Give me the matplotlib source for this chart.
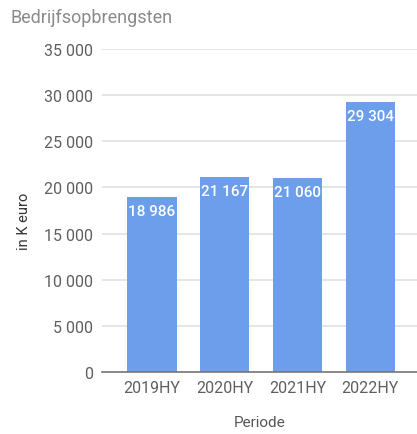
import matplotlib.pyplot as plt
from matplotlib.ticker import FuncFormatter

periods = ['2019HY', '2020HY', '2021HY', '2022HY']
revenue = [18986, 21167, 21060, 29304]
y_ticks = [0, 5000, 10000, 15000, 20000, 25000, 30000, 35000]

plt.rcParams['font.family'] = ['Roboto', 'DejaVu Sans']


def fmt(v, pos=None):
    return f'{int(v):,}'.replace(',', ' ')


fig = plt.figure(figsize=(4.17, 4.35), dpi=100)
ax = fig.add_axes([0.245, 0.1425, 0.755, 0.7425])

x = range(len(periods))
bars = ax.bar(x, revenue, width=0.68, color='#6d9eeb', zorder=3)

for b, v in zip(bars, revenue):
    ax.annotate(fmt(v), (b.get_x() + b.get_width() / 2, v), xytext=(0, -5),
                textcoords='offset points', ha='center', va='top',
                color='white', fontsize=11, fontweight='medium', zorder=4)

ax.set_xlim(-0.68, 3.64)
ax.set_ylim(0, 35000)
ax.set_yticks(y_ticks)
ax.yaxis.set_major_formatter(FuncFormatter(fmt))
ax.set_xticks(list(x))
ax.set_xticklabels(periods)

ax.grid(axis='y', color='#e0e0e0', linewidth=1.2, zorder=0)
ax.axhline(0, color='#777777', linewidth=1.2, zorder=5, clip_on=False)
for s in ax.spines.values():
    s.set_visible(False)
ax.tick_params(length=0, labelsize=11.5, colors='#5f5f5f')
ax.tick_params(axis='y', pad=6.5)
ax.tick_params(axis='x', pad=6)

ax.set_ylabel('in K euro', fontsize=10.5, color='#333333', labelpad=12)
ax.yaxis.set_label_coords(-0.225, 0.47)
ax.set_xlabel('Periode', fontsize=11, color='#555555', labelpad=14)

fig.text(0.026, 0.958, 'Bedrijfsopbrengsten', fontsize=13, color='#8a8a8a',
         ha='left', va='center')

fig.savefig('out.png', dpi=100)
